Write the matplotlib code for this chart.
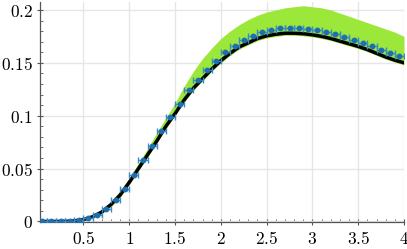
import numpy as np
import matplotlib
matplotlib.use("Agg")
import matplotlib.pyplot as plt
from matplotlib.ticker import MultipleLocator, FuncFormatter

plt.rcParams['mathtext.fontset'] = 'cm'

# Theory curve (black) and band (green)
x_theory = [0.0, 0.1, 0.2, 0.3, 0.4, 0.5, 0.6, 0.7, 0.8, 0.9,
            1.0, 1.1, 1.2, 1.3, 1.4, 1.5, 1.6, 1.7, 1.8, 1.9,
            2.0, 2.1, 2.2, 2.3, 2.4, 2.5, 2.6, 2.7, 2.8, 2.9,
            3.0, 3.1, 3.2, 3.3, 3.4, 3.5, 3.6, 3.7, 3.8, 3.9, 4.0]
y_theory = [0.0, 0.0, 0.0, 0.0001, 0.0006, 0.0018, 0.0045, 0.009, 0.016, 0.025,
            0.037, 0.050, 0.063, 0.076, 0.090, 0.102, 0.115, 0.126, 0.135, 0.144,
            0.152, 0.159, 0.165, 0.169, 0.173, 0.1755, 0.177, 0.178, 0.178, 0.1775,
            0.1765, 0.175, 0.173, 0.1705, 0.168, 0.1655, 0.1625, 0.159, 0.1555, 0.1525, 0.150]
band_upper = [0.0, 0.0, 0.0, 0.0002, 0.001, 0.003, 0.006, 0.011, 0.019, 0.029,
              0.041, 0.055, 0.069, 0.084, 0.098, 0.112, 0.128, 0.142, 0.154, 0.164,
              0.173, 0.180, 0.186, 0.191, 0.195, 0.198, 0.200, 0.202, 0.203, 0.204,
              0.203, 0.202, 0.200, 0.197, 0.194, 0.191, 0.188, 0.185, 0.182, 0.179, 0.175]
band_lower = [0.0, 0.0, 0.0, 0.0, 0.0004, 0.0012, 0.0035, 0.0075, 0.014, 0.023,
              0.035, 0.048, 0.061, 0.074, 0.088, 0.100, 0.113, 0.124, 0.133, 0.142,
              0.150, 0.157, 0.163, 0.167, 0.171, 0.1735, 0.175, 0.176, 0.176, 0.1755,
              0.1745, 0.173, 0.171, 0.1685, 0.166, 0.1635, 0.1605, 0.157, 0.1535, 0.1505, 0.148]

# Data points (blue)
x_data = [0.05, 0.15, 0.25, 0.35, 0.45, 0.55, 0.65, 0.75, 0.85, 0.95,
          1.05, 1.15, 1.25, 1.35, 1.45, 1.55, 1.65, 1.75, 1.85, 1.95,
          2.05, 2.15, 2.25, 2.35, 2.45, 2.55, 2.65, 2.75, 2.85, 2.95,
          3.05, 3.15, 3.25, 3.35, 3.45, 3.55, 3.65, 3.75, 3.85, 3.95]
y_data = [0.0, 0.0, 0.0001, 0.0003, 0.001, 0.003, 0.0065, 0.012, 0.020, 0.031,
          0.044, 0.058, 0.071, 0.086, 0.099, 0.111, 0.124, 0.134, 0.143, 0.152,
          0.160, 0.166, 0.172, 0.175, 0.179, 0.181, 0.183, 0.183, 0.183, 0.182,
          0.181, 0.179, 0.177, 0.174, 0.172, 0.169, 0.166, 0.162, 0.159, 0.156]
x_err = 0.05

fig = plt.figure(figsize=(4.07, 2.49), dpi=100)
ax = fig.add_axes([40/407, 27/249, 364/407, 220/249])

ax.fill_between(x_theory, band_lower, band_upper, color='#9be83a', lw=0, zorder=1)
ax.plot(x_theory, y_theory, color='black', lw=2.5, zorder=2, solid_capstyle='round')
ax.errorbar(x_data, y_data, xerr=x_err, fmt='o', ms=3.2, color='#1f6fae',
            ecolor='#3a8cc8', elinewidth=1.0, capsize=2.3, capthick=1.0, zorder=3)

ax.set_xlim(0.025, 4.0)
ax.set_ylim(-0.0005, 0.2075)

ax.xaxis.set_major_locator(MultipleLocator(0.5))
ax.xaxis.set_minor_locator(MultipleLocator(0.1))
ax.yaxis.set_major_locator(MultipleLocator(0.05))
ax.yaxis.set_minor_locator(MultipleLocator(0.01))

fmt = FuncFormatter(lambda v, p: "$%s$" % ("%g" % round(v, 3)))
ax.xaxis.set_major_formatter(fmt)
ax.yaxis.set_major_formatter(fmt)

ax.grid(True, which='major', color='#e6e6e6', lw=1.0, zorder=0)
ax.set_axisbelow(True)

for s in ['top', 'right']:
    ax.spines[s].set_visible(False)
for s in ['left', 'bottom']:
    ax.spines[s].set_color('#555555')
    ax.spines[s].set_linewidth(0.9)

ax.tick_params(axis='both', which='major', direction='inout', length=4, width=0.8,
               color='#555555', labelsize=12.5)
ax.tick_params(axis='both', which='minor', direction='in', length=2, width=0.6,
               color='#555555')
ax.tick_params(axis='x', which='major', pad=4)
ax.tick_params(axis='y', which='major', pad=3)

fig.savefig('out.png', dpi=100)
